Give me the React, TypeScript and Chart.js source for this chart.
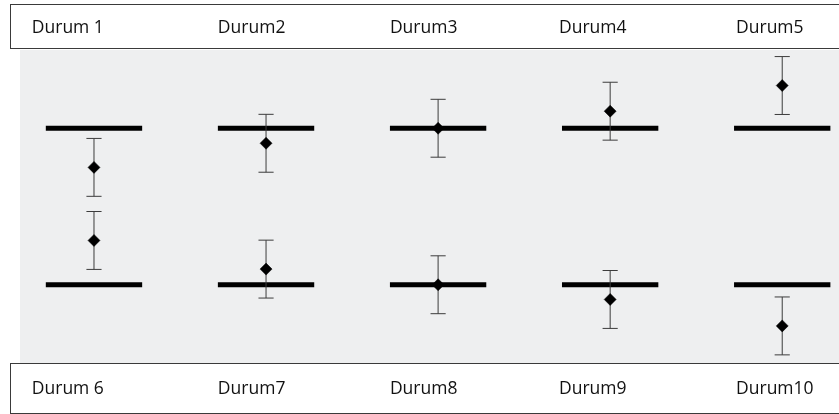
import React, { useEffect, useRef } from "react";
import { Chart, registerables } from "chart.js";

Chart.register(...registerables);

// ---- data ----
const topCategories = ["Durum 1", "Durum2", "Durum3", "Durum4", "Durum5"];
const bottomCategories = ["Durum 6", "Durum7", "Durum8", "Durum9", "Durum10"];
const topReference = 1;
const bottomReference = 0;
const topValues = [0.75, 0.904, 1.0, 1.109, 1.273];
const bottomValues = [0.283, 0.1, 0.0, -0.094, -0.263];
const topErrors = [0.185, 0.185, 0.185, 0.185, 0.185];
const bottomErrors = [0.185, 0.185, 0.185, 0.185, 0.185];

// ---- style constants ----
const LINE_HALF = 0.28; // half width of reference bars (x units)
const CAP_HALF = 0.044; // half width of error caps (x units)
const LABEL_NUDGE = [-14, 0, 0, -3, 2]; // px nudges of the box labels
const FONT = '17.5px "Open Sans"';

type P = { x: number; y: number | null };

function buildRefLines(): P[] {
  const pts: P[] = [];
  topCategories.forEach((_, i) => {
    pts.push({ x: i - LINE_HALF, y: topReference }, { x: i + LINE_HALF, y: topReference }, { x: i, y: null });
  });
  bottomCategories.forEach((_, i) => {
    pts.push({ x: i - LINE_HALF, y: bottomReference }, { x: i + LINE_HALF, y: bottomReference }, { x: i, y: null });
  });
  return pts;
}

function buildErrors(): P[] {
  const pts: P[] = [];
  const add = (i: number, v: number, e: number) => {
    pts.push({ x: i, y: v - e }, { x: i, y: v + e }, { x: i, y: null });
    pts.push({ x: i - CAP_HALF, y: v - e }, { x: i + CAP_HALF, y: v - e }, { x: i, y: null });
    pts.push({ x: i - CAP_HALF, y: v + e }, { x: i + CAP_HALF, y: v + e }, { x: i, y: null });
  };
  topValues.forEach((v, i) => add(i, v, topErrors[i]));
  bottomValues.forEach((v, i) => add(i, v, bottomErrors[i]));
  return pts;
}

function buildPoints(): P[] {
  return [
    ...topValues.map((v, i) => ({ x: i, y: v })),
    ...bottomValues.map((v, i) => ({ x: i, y: v })),
  ];
}

const framePlugin = {
  id: "frame",
  beforeDraw(chart: any) {
    const { ctx, chartArea } = chart;
    ctx.save();
    ctx.fillStyle = "#ffffff";
    ctx.fillRect(0, 0, chart.width, chart.height);
    ctx.fillStyle = "#eeeff0";
    ctx.fillRect(chartArea.left, chartArea.top, chartArea.right - chartArea.left, chartArea.bottom - chartArea.top);
    ctx.restore();
  },
  afterDraw(chart: any) {
    const { ctx, chartArea, scales } = chart;
    const xs = scales.x;
    ctx.save();
    ctx.strokeStyle = "#3a3a3a";
    ctx.lineWidth = 1;
    const topBoxTop = 4.5;
    const topBoxBottom = chartArea.top - 1.5;
    const botBoxTop = chartArea.bottom + 0.5;
    const botBoxBottom = chart.height - 0.5;
    ctx.strokeRect(10.5, topBoxTop, chart.width + 10, topBoxBottom - topBoxTop);
    ctx.strokeRect(10.5, botBoxTop, chart.width + 10, botBoxBottom - botBoxTop);
    ctx.fillStyle = "#111111";
    ctx.font = FONT;
    ctx.textAlign = "left";
    ctx.textBaseline = "middle";
    const topMid = (topBoxTop + topBoxBottom) / 2 + 2;
    const botMid = (botBoxTop + botBoxBottom) / 2 + 1;
    topCategories.forEach((c, i) => {
      ctx.fillText(c, xs.getPixelForValue(i - LINE_HALF) + LABEL_NUDGE[i], topMid);
    });
    bottomCategories.forEach((c, i) => {
      ctx.fillText(c, xs.getPixelForValue(i - LINE_HALF) + LABEL_NUDGE[i], botMid);
    });
    ctx.restore();
  },
};

export default function App() {
  const ref = useRef<HTMLCanvasElement>(null);
  useEffect(() => {
    document.body.style.margin = "0";
    if (!ref.current) return;
    const chart = new Chart(ref.current, {
      type: "scatter",
      data: {
        datasets: [
          {
            data: buildPoints() as any,
            pointStyle: "rectRot",
            pointRadius: 6,
            pointBackgroundColor: "#000000",
            pointBorderColor: "#000000",
            pointBorderWidth: 0.5,
            showLine: false,
          },
          {
            data: buildErrors() as any,
            showLine: true,
            spanGaps: false,
            borderColor: "#3c3c3c",
            borderWidth: 1,
            pointRadius: 0,
          },
          {
            data: buildRefLines() as any,
            showLine: true,
            spanGaps: false,
            borderColor: "#000000",
            borderWidth: 5,
            borderCapStyle: "butt",
            pointRadius: 0,
          },
        ],
      },
      options: {
        responsive: false,
        animation: false,
        layout: { autoPadding: false, padding: { left: 20, top: 50, right: 0, bottom: 51 } },
        plugins: { legend: { display: false }, tooltip: { enabled: false } },
        scales: {
          x: { type: "linear", min: -0.43, max: 4.33, display: false },
          y: { type: "linear", min: -0.5, max: 1.5, display: false },
        },
      },
      plugins: [framePlugin],
    });
    return () => chart.destroy();
  }, []);
  return (
    <div style={{ width: 839, height: 414 }}>
      <canvas ref={ref} width={839} height={414} style={{ display: "block" }} />
    </div>
  );
}
